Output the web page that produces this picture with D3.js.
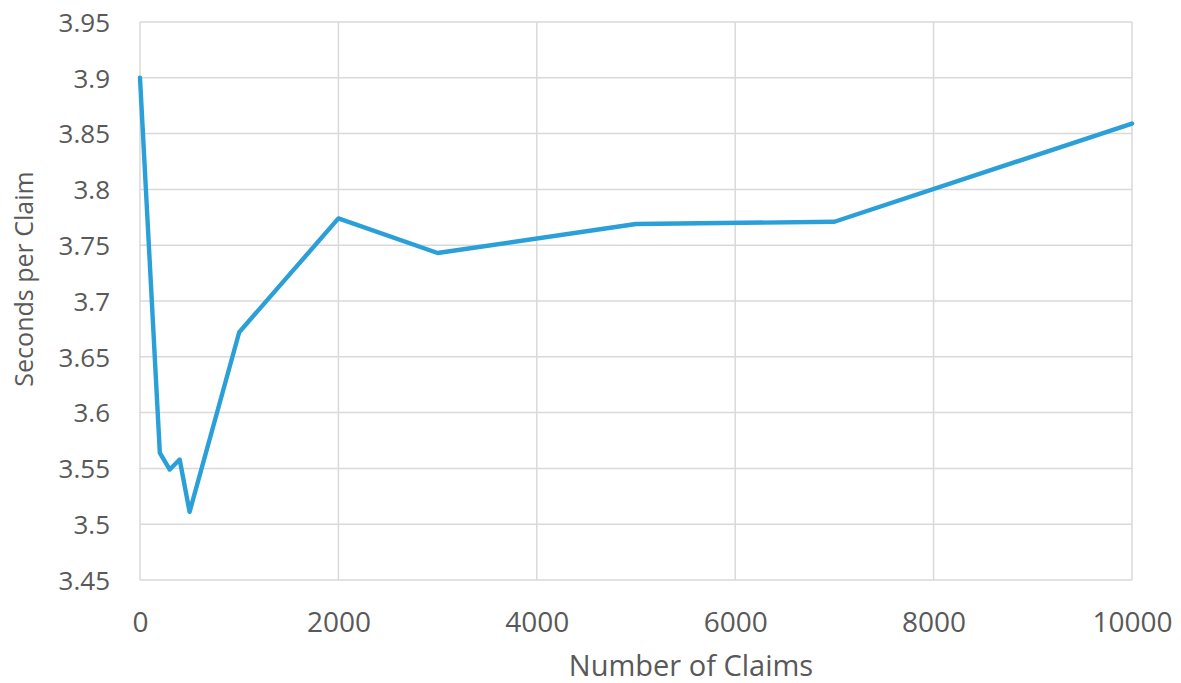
<!DOCTYPE html>
<html>
<head>
<meta charset="utf-8">
<script src="https://cdn.jsdelivr.net/npm/d3@7/dist/d3.min.js"></script>
<style>
  html, body { margin: 0; padding: 0; background: #fff; }
  svg { display: block; }
</style>
</head>
<body>
<svg id="chart" width="1181" height="683"></svg>
<script>
// Claims processed vs. average seconds spent per claim
const claims = [0, 200, 300, 400, 500, 1000, 2000, 3000, 5000, 7000, 10000];
const secondsPerClaim = [3.9, 3.564, 3.549, 3.558, 3.511, 3.672, 3.774, 3.743, 3.769, 3.771, 3.859];
const xTicks = [0, 2000, 4000, 6000, 8000, 10000];
const yTicks = [3.45, 3.5, 3.55, 3.6, 3.65, 3.7, 3.75, 3.8, 3.85, 3.9, 3.95];

const svg = d3.select("#chart");
const m = { left: 140, right: 49, top: 22, bottom: 103 };
const W = 1181, H = 683;

const x = d3.scaleLinear().domain([0, 10000]).range([m.left, W - m.right]);
const y = d3.scaleLinear().domain([3.45, 3.95]).range([H - m.bottom, m.top]);

const grid = "#d9d9d9";
const textColor = "#595959";
const font = "'Open Sans', 'Noto Sans', sans-serif";

// horizontal gridlines
svg.append("g")
  .selectAll("line")
  .data(yTicks)
  .join("line")
  .attr("x1", x(0)).attr("x2", x(10000))
  .attr("y1", d => y(d)).attr("y2", d => y(d))
  .attr("stroke", grid).attr("stroke-width", 1.5);

// vertical gridlines
svg.append("g")
  .selectAll("line")
  .data(xTicks)
  .join("line")
  .attr("x1", d => x(d)).attr("x2", d => x(d))
  .attr("y1", y(3.95)).attr("y2", y(3.45))
  .attr("stroke", grid).attr("stroke-width", 1.5);

// y tick labels
const yAxis = d3.axisLeft(y).tickValues(yTicks).tickSize(0).tickPadding(30)
  .tickFormat(d => String(+d.toFixed(2)));
const gy = svg.append("g").attr("transform", `translate(${x(0)},0)`).call(yAxis);
gy.select(".domain").remove();
gy.selectAll("text")
  .attr("fill", textColor)
  .attr("dy", "0.36em")
  .style("font-family", font)
  .style("font-size", "26px");

// x tick labels
const xAxis = d3.axisBottom(x).tickValues(xTicks).tickSize(0)
  .tickFormat(d3.format("d"));
const gx = svg.append("g").attr("transform", `translate(0,${y(3.45)})`).call(xAxis);
gx.select(".domain").remove();
gx.selectAll("text")
  .attr("fill", textColor)
  .attr("y", 52)
  .attr("dy", 0)
  .style("font-family", font)
  .style("font-size", "28px");

// data line
const line = d3.line()
  .x((d, i) => x(claims[i]))
  .y(d => y(d));
svg.append("path")
  .datum(secondsPerClaim)
  .attr("d", line)
  .attr("fill", "none")
  .attr("stroke", "#2a9fd8")
  .attr("stroke-width", 4.4)
  .attr("stroke-linejoin", "round")
  .attr("stroke-linecap", "round");

// axis titles
svg.append("text")
  .attr("x", 691)
  .attr("y", 676)
  .attr("text-anchor", "middle")
  .attr("fill", textColor)
  .style("font-family", font)
  .style("font-size", "29px")
  .text("Number of Claims");

svg.append("text")
  .attr("transform", "translate(33,279) rotate(-90)")
  .attr("text-anchor", "middle")
  .attr("fill", textColor)
  .style("font-family", font)
  .style("font-size", "25px")
  .text("Seconds per Claim");
</script>
</body>
</html>
